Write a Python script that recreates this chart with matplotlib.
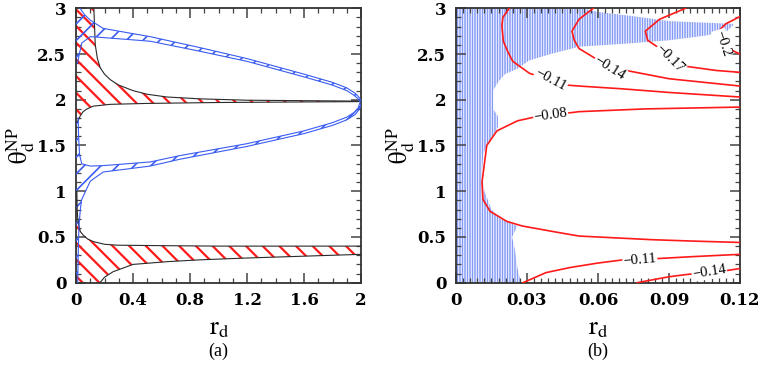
import numpy as np
import matplotlib.pyplot as plt
from matplotlib.ticker import MultipleLocator

plt.rcParams['font.family'] = ['DejaVu Serif']
plt.rcParams['mathtext.fontset'] = 'stix'
plt.rcParams['axes.linewidth'] = 1.3

# --------------------------
# Data (r_d, theta_d^NP)
# --------------------------
# panel (a): red hatched region around theta ~ 2 (upper / lower black boundaries)
top_up_r = [0.125, 0.13, 0.135, 0.15, 0.17, 0.2, 0.24, 0.3, 0.4, 0.5, 0.64, 0.87, 1.2, 1.6, 2.0]
top_up_t = [3.0, 2.8, 2.6, 2.45, 2.35, 2.28, 2.22, 2.16, 2.10, 2.06, 2.03, 2.01, 1.995, 1.99, 1.985]
top_lo_r = [0.0, 0.01, 0.02, 0.028, 0.05, 0.077, 0.12, 0.24, 0.5, 1.0, 1.5, 2.0]
top_lo_t = [1.75, 1.76, 1.79, 1.82, 1.87, 1.90, 1.93, 1.95, 1.96, 1.97, 1.975, 1.98]

# panel (a): red hatched region near theta ~ 0.3
bot_up_r = [0.006, 0.008, 0.014, 0.03, 0.05, 0.08, 0.12, 0.2, 0.29, 0.6, 1.0, 2.0]
bot_up_t = [1.0, 0.8, 0.66, 0.56, 0.52, 0.48, 0.45, 0.42, 0.41, 0.405, 0.40, 0.40]
bot_lo_r = [0.168, 0.2, 0.26, 0.4, 0.64, 0.87, 1.2, 1.6, 2.0]
bot_lo_t = [0.0, 0.06, 0.12, 0.20, 0.23, 0.25, 0.27, 0.29, 0.31]

# panel (a): blue bands
bu_top_r = [0.028, 0.06, 0.1, 0.19, 0.52, 0.87, 1.2, 1.6, 1.8, 1.9, 1.96, 1.99, 2.0]
bu_top_t = [3.0, 2.93, 2.87, 2.78, 2.69, 2.57, 2.45, 2.28, 2.19, 2.13, 2.07, 2.02, 1.98]
bu_bot_r = [0.01, 0.04, 0.1, 0.19, 0.52, 0.87, 1.2, 1.6, 1.8, 1.9, 1.95, 1.98, 1.99]
bu_bot_t = [2.4, 2.62, 2.69, 2.68, 2.64, 2.53, 2.42, 2.25, 2.16, 2.10, 2.05, 2.01, 1.98]
bl_top_r = [0.015, 0.018, 0.025, 0.04, 0.1, 0.19, 0.52, 0.73, 1.2, 1.6, 1.8, 1.9, 1.95, 1.98, 1.99]
bl_top_t = [1.8, 1.6, 1.4, 1.3, 1.275, 1.28, 1.32, 1.39, 1.52, 1.66, 1.75, 1.81, 1.86, 1.91, 1.96]
bl_bot_r = [0.012, 0.015, 0.02, 0.03, 0.04, 0.1, 0.19, 0.52, 0.73, 1.2, 1.6, 1.8, 1.9, 1.96, 1.99, 2.0]
bl_bot_t = [0.0, 0.3, 0.6, 0.8, 0.91, 1.11, 1.21, 1.275, 1.35, 1.49, 1.63, 1.72, 1.78, 1.84, 1.90, 1.96]

# panel (b): blue (vertically hatched) region outline
hb_r = [0.0, 0.0275, 0.026, 0.025, 0.0237, 0.026, 0.022, 0.0186, 0.015, 0.012, 0.011, 0.0115,
        0.013, 0.016, 0.0177, 0.0177, 0.0157, 0.0157, 0.018, 0.0207, 0.026, 0.031, 0.040,
        0.052, 0.070, 0.090, 0.105, 0.1145, 0.117, 0.117, 0.108, 0.090, 0.076, 0.060, 0.053, 0.0]
hb_t = [0.0, 0.0, 0.15, 0.35, 0.5, 0.62, 0.66, 0.7, 0.8, 1.0, 1.2, 1.4,
        1.5, 1.62, 1.7, 1.82, 1.9, 2.1, 2.2, 2.28, 2.34, 2.43, 2.5,
        2.58, 2.61, 2.65, 2.7, 2.75, 2.81, 2.83, 2.84, 2.86, 2.91, 2.96, 3.0, 3.0]

# panel (b): contour lines
c08_r = [0.12, 0.10, 0.083, 0.052, 0.043, 0.028, 0.0215, 0.0144, 0.0114, 0.011, 0.0115, 0.013,
         0.0173, 0.026, 0.033, 0.040, 0.049, 0.052, 0.08, 0.10, 0.12]
c08_t = [0.44, 0.455, 0.47, 0.51, 0.55, 0.62, 0.67, 0.78, 0.91, 1.1, 1.2, 1.5,
         1.66, 1.77, 1.81, 1.84, 1.86, 1.87, 1.90, 1.91, 1.92]
c11_r = [0.0225, 0.0198, 0.0194, 0.0200, 0.022, 0.024, 0.031, 0.040, 0.047, 0.052, 0.07, 0.09, 0.12]
c11_t = [3.0, 2.9, 2.81, 2.64, 2.52, 2.42, 2.29, 2.21, 2.16, 2.15, 2.12, 2.08, 2.03]
c14_r = [0.058, 0.052, 0.049, 0.050, 0.052, 0.059, 0.065, 0.072, 0.09, 0.12]
c14_t = [3.0, 2.88, 2.75, 2.65, 2.56, 2.45, 2.36, 2.32, 2.23, 2.15]
c17_r = [0.097, 0.086, 0.080, 0.081, 0.085, 0.090, 0.096, 0.11, 0.12]
c17_t = [3.0, 2.88, 2.75, 2.65, 2.58, 2.47, 2.37, 2.32, 2.30]
c20_r = [0.12, 0.114, 0.1105, 0.111, 0.115, 0.12]
c20_t = [2.91, 2.83, 2.74, 2.65, 2.56, 2.50]
c11b_r = [0.0283, 0.038, 0.048, 0.06, 0.0706, 0.086, 0.10, 0.12]
c11b_t = [0.0, 0.11, 0.165, 0.215, 0.25, 0.265, 0.285, 0.31]
c14b_r = [0.0765, 0.09, 0.0976, 0.107, 0.115, 0.12]
c14b_t = [0.0, 0.065, 0.09, 0.115, 0.135, 0.155]

# contour labels: text, r, theta, rotation
clabels = [('\u22120.08', 0.040, 1.835, 8), ('\u22120.11', 0.040, 2.215, -28),
           ('\u22120.14', 0.065, 2.35, -32), ('\u22120.17', 0.0905, 2.45, -45),
           ('\u22120.2', 0.1125, 2.62, -72), ('\u22120.11', 0.0777, 0.25, 5),
           ('\u22120.14', 0.107, 0.115, 9)]

RED = '#ff1a1a'
BLUE = '#3a5cf0'
LINE = '#2a2a2a'


def hatch_poly(ax, r, t, hatch, color, hlw, z):
    with plt.rc_context({'hatch.linewidth': hlw}):
        p = ax.fill(r, t, facecolor='none', edgecolor=color, linewidth=0, hatch=hatch, zorder=z)[0]
    if hasattr(p, 'set_hatch_linewidth'):
        p.set_hatch_linewidth(hlw)
    return p


def style_axes(ax, xmax, xmajor, xminor, xlabels):
    ax.set_xlim(0, xmax)
    ax.set_ylim(0, 3)
    ax.set_xticks(np.arange(len(xlabels)) * xmajor, xlabels, fontweight='bold', fontsize=12)
    ax.set_yticks([0, 0.5, 1, 1.5, 2, 2.5, 3], ['0', '0.5', '1', '1.5', '2', '2.5', '3'],
                  fontweight='bold', fontsize=12)
    ax.xaxis.set_minor_locator(MultipleLocator(xminor))
    ax.yaxis.set_minor_locator(MultipleLocator(0.1))
    ax.tick_params(which='both', direction='in', top=True, right=True, color='#444444')
    ax.tick_params(which='major', length=7, width=1.1, pad=7)
    ax.tick_params(which='minor', length=3.5, width=0.9)
    for s in ax.spines.values():
        s.set_color('#333333')
    ax.set_ylabel(r'$\mathrm{\theta}_{\rm d}^{\rm NP}$', fontsize=18, labelpad=0)


fig = plt.figure(figsize=(7.61, 3.67), dpi=100)
ax1 = fig.add_axes([0.0999, 0.2297, 0.3745, 0.7477])
ax2 = fig.add_axes([0.5992, 0.2297, 0.3732, 0.7477])

# --------------------------
# Panel (a)
# --------------------------
hatch_poly(ax1, top_up_r + top_lo_r[::-1] + [0.0], top_up_t + top_lo_t[::-1] + [3.0], '\\\\', RED, 1.6, 2)
hatch_poly(ax1, [0.0] + bot_up_r[2:] + bot_lo_r[::-1] + [0.0], [0.6] + bot_up_t[2:] + bot_lo_t[::-1] + [0.0],
           '\\\\', RED, 1.6, 2)
hatch_poly(ax1, [0.0] + bu_top_r + bu_bot_r[::-1] + [0.0], [3.0] + bu_top_t + bu_bot_t[::-1] + [2.4],
           '//', BLUE, 1.2, 3)
hatch_poly(ax1, [0.0] + bl_top_r + bl_bot_r[::-1] + [0.0], [1.8] + bl_top_t + bl_bot_t[::-1] + [0.0],
           '//', BLUE, 1.2, 3)

for r, t in [(top_up_r, top_up_t), (top_lo_r, top_lo_t), (bot_up_r, bot_up_t), (bot_lo_r, bot_lo_t)]:
    ax1.plot(r, t, color=LINE, lw=0.8, zorder=4)
for r, t in [(bu_top_r, bu_top_t), (bu_bot_r, bu_bot_t), (bl_top_r, bl_top_t), (bl_bot_r, bl_bot_t)]:
    ax1.plot(r, t, color=BLUE, lw=0.8, zorder=4)

style_axes(ax1, 2, 0.4, 0.1, ['0', '0.4', '0.8', '1.2', '1.6', '2'])

# --------------------------
# Panel (b)
# --------------------------
hatch_poly(ax2, hb_r, hb_t, '|' * 10, '#4d6df0', 0.5, 1)
for r, t in [(c08_r, c08_t), (c11_r, c11_t), (c14_r, c14_t), (c17_r, c17_t),
             (c20_r, c20_t), (c11b_r, c11b_t), (c14b_r, c14b_t)]:
    ax2.plot(r, t, color=RED, lw=1.2, zorder=3)
for txt, r, t, rot in clabels:
    ax2.text(r, t, txt, rotation=rot, fontsize=10.5, family='Liberation Serif', ha='center', va='center',
             rotation_mode='anchor', zorder=4,
             bbox=dict(boxstyle='square,pad=0.05', facecolor='white', edgecolor='none'))

style_axes(ax2, 0.12, 0.03, 0.003, ['0', '0.03', '0.06', '0.09', '0.12'])

# --------------------------
# x labels and panel tags
# --------------------------
for xc, tag in [(0.2873, '(a)'), (0.7858, '(b)')]:
    fig.text(xc, 0.108, r'$\mathrm{r}_{\mathrm{d}}$', fontsize=19, ha='center', va='center')
    fig.text(xc, 0.042, tag, fontsize=13, family='Liberation Serif', ha='center', va='center')

fig.savefig('out.png', dpi=100)
